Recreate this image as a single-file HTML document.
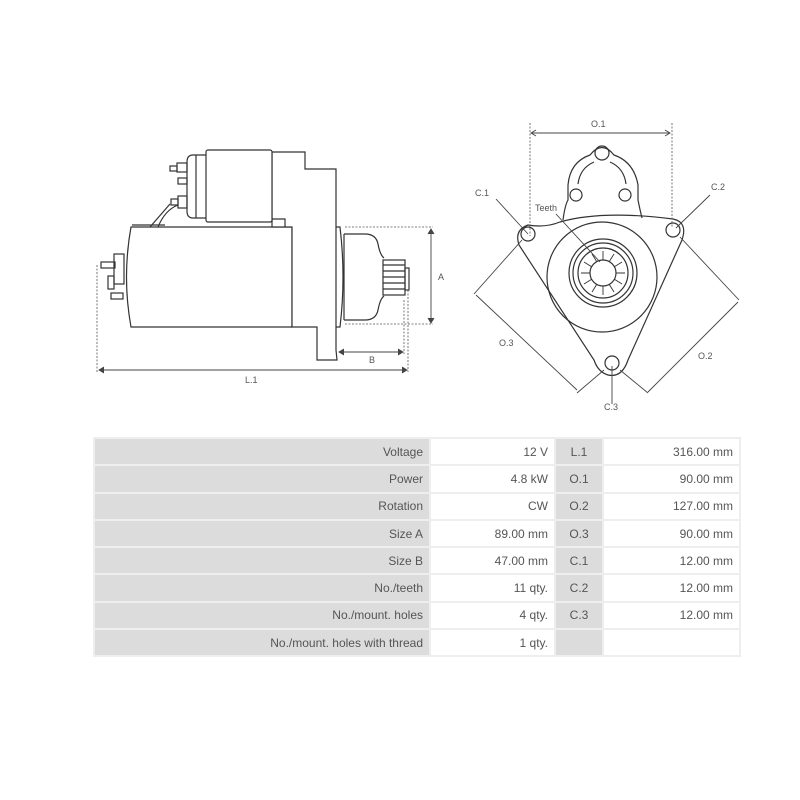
<!DOCTYPE html>
<html><head><meta charset="utf-8"><style>
body{margin:0;background:#fff;width:800px;height:800px;overflow:hidden;font-family:"Liberation Sans",sans-serif;}
svg{position:absolute;left:0;top:0}
table{position:absolute;left:93px;top:437px;border-collapse:separate;border-spacing:2px;background:#eee;font-size:12px;color:#555}
td{height:25.3px;padding:0 6px;text-align:right;}
td.g{background:#dcdcdc}
td.w{background:#fff}
</style></head><body>
<svg width="800" height="800" viewBox="0 0 800 800" fill="none" stroke="#333" stroke-width="1.2" font-family="Liberation Sans, sans-serif">
<!-- left view -->
<path d="M292 227 H131 Q122 277 131 327 H292 Z" fill="#fff"/>
<path d="M272 152 H305 V169 H336 V227 V327 V350 L337 360 H317 V327 H292 V227 H272 Z" fill="#fff"/>
<path d="M272 222 V219 H285 V227"/>
<path d="M336 227 H340 Q346 277 340 327 H336"/>
<rect x="206" y="150" width="66" height="72" rx="2" fill="#fff"/>
<path d="M206 155 H193 Q187 155 187 162 V211 Q187 218 193 218 H206"/>
<path d="M196 155 V218"/>
<rect x="177" y="163" width="10" height="9"/><rect x="170" y="166" width="7" height="5"/>
<rect x="178" y="178" width="9" height="6"/>
<rect x="178" y="196" width="9" height="12"/><rect x="171" y="199" width="7" height="6"/>
<path d="M150 227 L170 204 M158 227 Q165 210 178 205 M132 225 H165"/>
<rect x="114" y="254" width="10" height="30"/>
<rect x="108" y="276" width="6" height="13"/>
<rect x="101" y="262" width="14" height="6"/>
<rect x="111" y="293" width="12" height="6"/>
<path d="M344 234 H365 Q376 234 378 244 Q380 255 384 258 M344 320 H365 Q376 320 378 310 Q380 299 384 296 M344 234 V320"/>
<rect x="383" y="260" width="22" height="35" fill="#fff"/>
<path d="M383 265 H405 M383 271 H405 M383 277 H405 M383 283 H405 M383 289 H405"/>
<rect x="405" y="268" width="4" height="22"/>
<g stroke="#555" stroke-width="0.8" stroke-dasharray="2,1.5">
<path d="M345 227 H433 M345 324 H433 M97 265 V372 M408 290 V372 M404 300 V354"/>
</g>
<g stroke="#444" stroke-width="0.9">
<path d="M431 229 V323 M339 352 H403 M99 370 H407"/>
<path d="M428 234 L431 229 L434 234 M428 318 L431 323 L434 318 M344 349 L339 352 L344 355 M398 349 L403 352 L398 355 M104 367 L99 370 L104 373 M402 367 L407 370 L402 373" fill="#444"/>
</g>
<g fill="#555" stroke="none" font-size="9">
<text x="438" y="280">A</text><text x="369" y="363">B</text><text x="245" y="383">L.1</text>
</g>
<!-- right view -->
<path d="M528 225 Q545 228 560 222 Q602 210 673 219 Q688 222 682 240 L628 360 Q622 378 608 375 Q598 372 594 360 L519 245 Q514 230 528 225 Z" fill="#fff"/>
<path d="M563 220 Q565 205 568 200 V185 Q570 162 590 155 Q602 140 614 155 Q634 162 638 185 V200 Q640 210 642 218"/>
<path d="M578 184 Q580 168 594 162 M626 184 Q624 168 610 162"/>
<circle cx="602" cy="153" r="7"/>
<circle cx="576" cy="195" r="6"/><circle cx="625" cy="195" r="6"/>
<circle cx="528" cy="234" r="7"/><circle cx="673" cy="230" r="7"/><circle cx="612" cy="363" r="7"/>
<circle cx="602" cy="277" r="55"/>
<circle cx="603" cy="273" r="34"/><circle cx="603" cy="273" r="30"/><circle cx="603" cy="273" r="25"/>
<circle cx="603" cy="273" r="13"/>
<g stroke-width="0.9">
<path d="M603 251 V260 M614 254 L609 262 M622 262 L614 267 M625 273 H616 M622 284 L614 279 M614 292 L609 284 M603 295 V286 M592 292 L597 284 M584 284 L592 279 M581 273 H590 M584 262 L592 267 M592 254 L597 262"/>
</g>
<g stroke="#555" stroke-width="0.8" stroke-dasharray="2,1.5"><path d="M530 123 V236 M672 123 V228"/></g>
<g stroke="#444" stroke-width="0.9">
<path d="M531 133 H670 M536 130 L531 133 L536 136 M665 130 L670 133 L665 136" />
<path d="M496 199 L528 234 M710 195 L676 228 M612 404 V366 M556 214 L600 262"/>
<path d="M522 240 L474 294 M604 370 L577 393 M680 237 L739 300 M620 370 L648 393"/>
<path d="M476 295 L577 390 M738 302 L648 392"/>
</g>
<g fill="#555" stroke="none" font-size="9">
<text x="591" y="127">O.1</text><text x="475" y="196">C.1</text><text x="711" y="190">C.2</text>
<text x="535" y="211">Teeth</text><text x="499" y="346">O.3</text><text x="698" y="359">O.2</text><text x="604" y="410">C.3</text>
</g>
</svg>
<table>
<tr><td class="g" style="width:322px">Voltage</td><td class="w" style="width:111px">12 V</td><td class="g" style="width:34px;text-align:center">L.1</td><td class="w" style="width:123px">316.00 mm</td></tr>
<tr><td class="g">Power</td><td class="w">4.8 kW</td><td class="g" style="text-align:center">O.1</td><td class="w">90.00 mm</td></tr>
<tr><td class="g">Rotation</td><td class="w">CW</td><td class="g" style="text-align:center">O.2</td><td class="w">127.00 mm</td></tr>
<tr><td class="g">Size A</td><td class="w">89.00 mm</td><td class="g" style="text-align:center">O.3</td><td class="w">90.00 mm</td></tr>
<tr><td class="g">Size B</td><td class="w">47.00 mm</td><td class="g" style="text-align:center">C.1</td><td class="w">12.00 mm</td></tr>
<tr><td class="g">No./teeth</td><td class="w">11 qty.</td><td class="g" style="text-align:center">C.2</td><td class="w">12.00 mm</td></tr>
<tr><td class="g">No./mount. holes</td><td class="w">4 qty.</td><td class="g" style="text-align:center">C.3</td><td class="w">12.00 mm</td></tr>
<tr><td class="g">No./mount. holes with thread</td><td class="w">1 qty.</td><td class="g"></td><td class="w"></td></tr>
</table>
</body></html>
